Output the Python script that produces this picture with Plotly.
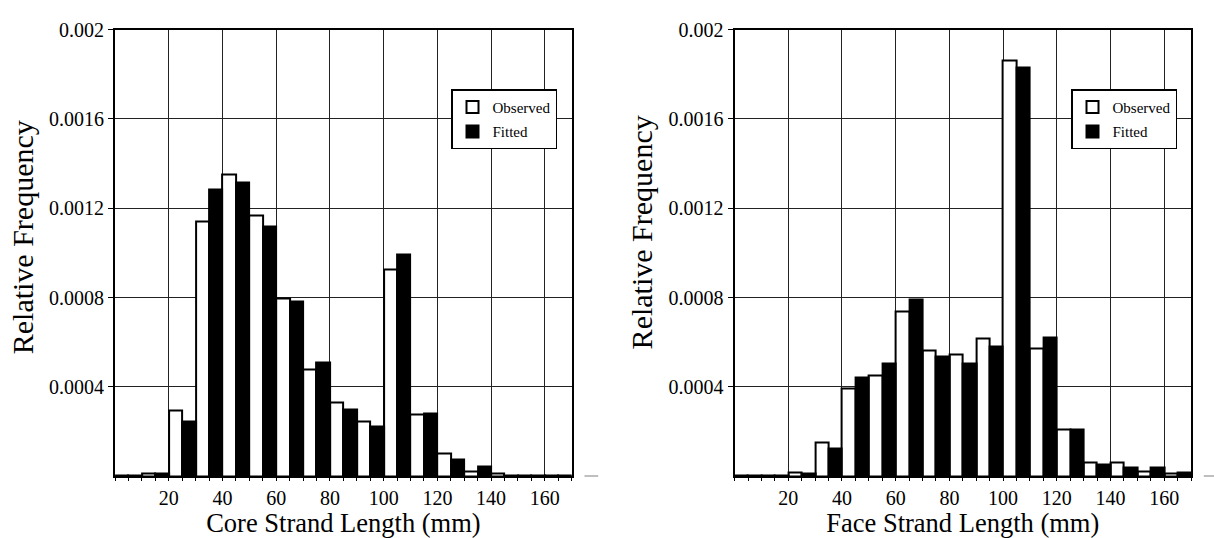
import plotly.graph_objects as go

# ---- data ----
bin_starts = [0, 10, 20, 30, 40, 50, 60, 70, 80, 90, 100, 110, 120, 130, 140, 150, 160]
bin_width = 10

core_observed = [0.000003, 0.000012, 0.000295, 0.001140, 0.001352, 0.001167, 0.000797, 0.000477,
                 0.000329, 0.000244, 0.000924, 0.000276, 0.000101, 0.000023, 0.000010, 0.000002, 0.000002]
core_fitted = [0.000003, 0.000012, 0.000246, 0.001282, 0.001317, 0.001117, 0.000782, 0.000509,
               0.000297, 0.000224, 0.000994, 0.000281, 0.000073, 0.000045, 0.000004, 0.000002, 0.000002]

face_observed = [0.000003, 0.000003, 0.000017, 0.000151, 0.000391, 0.000451, 0.000736, 0.000564,
                 0.000543, 0.000616, 0.001859, 0.000571, 0.000211, 0.000061, 0.000061, 0.000023, 0.000012]
face_fitted = [0.000003, 0.000003, 0.000012, 0.000122, 0.000441, 0.000505, 0.000790, 0.000536,
               0.000505, 0.000580, 0.001828, 0.000622, 0.000208, 0.000053, 0.000040, 0.000040, 0.000015]

x_tick_vals = [20, 40, 60, 80, 100, 120, 140, 160]
y_tick_vals = [0.0004, 0.0008, 0.0012, 0.0016, 0.002]
y_tick_text = ["0.0004", "0.0008", "0.0012", "0.0016", "0.002"]

x_titles = ["Core Strand Length (mm)", "Face Strand Length (mm)"]
y_title = "Relative Frequency"

FONT = "Liberation Serif, Times New Roman, serif"
W, H = 1214, 538

centers = [b + bin_width / 2 for b in bin_starts]

fig = go.Figure()

panels = [
    ("x", "y", "legend", core_observed, core_fitted),
    ("x2", "y2", "legend2", face_observed, face_fitted),
]
for xa, ya, lg, obs, fit in panels:
    fig.add_trace(go.Bar(x=centers, y=obs, name="Observed", xaxis=xa, yaxis=ya, legend=lg,
                         offsetgroup="obs", legendgroup=lg + "obs",
                         marker=dict(color="white", line=dict(color="black", width=2))))
    fig.add_trace(go.Bar(x=centers, y=fit, name="Fitted", xaxis=xa, yaxis=ya, legend=lg,
                         offsetgroup="fit", legendgroup=lg + "fit",
                         marker=dict(color="black", line=dict(color="black", width=2))))

left_px = [115.1, 734.6]
right_px = [571.7, 1191.0]
top_px, bot_px = 19.0, 475.0

def xaxis_cfg(i):
    return dict(
        domain=[left_px[i] / W, right_px[i] / W],
        range=[0, 170], anchor="y" if i == 0 else "y2",
        tickvals=x_tick_vals, ticks="outside", ticklen=3, tickcolor="black",
        minor=dict(dtick=5, tick0=0, ticks="outside", ticklen=3, tickcolor="black", showgrid=False),
        showgrid=True, gridcolor="#222", gridwidth=1,
        showline=True, linecolor="black", linewidth=2, mirror=True,
        zeroline=False,
        tickfont=dict(family=FONT, size=20, color="black"),
        title=dict(text=x_titles[i], font=dict(family=FONT, size=26.5, color="black"), standoff=2),
    )

def yaxis_cfg(i):
    return dict(
        domain=[(H - bot_px) / H, (H - top_px) / H],
        range=[0, 0.002], anchor="x" if i == 0 else "x2",
        tickvals=y_tick_vals, ticktext=y_tick_text,
        ticks="outside", ticklen=5, tickcolor="black",
        showgrid=True, gridcolor="#222", gridwidth=1,
        showline=True, linecolor="black", linewidth=2, mirror=True,
        zeroline=False,
        tickfont=dict(family=FONT, size=20, color="black"),
    )

legend_common = dict(
    bgcolor="white", bordercolor="black", borderwidth=1.5,
    font=dict(family=FONT, size=15, color="black"),
    xanchor="left", yanchor="top", tracegroupgap=2,
    itemwidth=30,
)

fig.update_layout(
    width=W, height=H,
    margin=dict(l=0, r=0, t=0, b=0),
    paper_bgcolor="white", plot_bgcolor="white",
    barmode="group", bargap=0, bargroupgap=0,
    xaxis=xaxis_cfg(0), yaxis=yaxis_cfg(0),
    xaxis2=xaxis_cfg(1), yaxis2=yaxis_cfg(1),
    legend=dict(x=451 / W, y=(H - 80) / H, **legend_common),
    legend2=dict(x=1071 / W, y=(H - 80) / H, **legend_common),
    showlegend=True,
)

# y-axis titles (placed slightly above the plot centre, as in the reference)
for xc, yc in [(22, 231), (641, 226)]:
    fig.add_annotation(text=y_title, xref="paper", yref="paper", x=xc / W, y=(H - yc) / H,
                       xanchor="center", yanchor="middle", textangle=-90, showarrow=False,
                       font=dict(family=FONT, size=30, color="black"))

# small stray dashes at the right of each x axis (as in the reference)
for xr, yr in [("x domain", "y"), ("x2 domain", "y2")]:
    fig.add_shape(type="line", xref=xr, yref=yr, x0=1.028, x1=1.058, y0=0, y1=0,
                  line=dict(color="black", width=1.2))

fig.write_html("out.html")
